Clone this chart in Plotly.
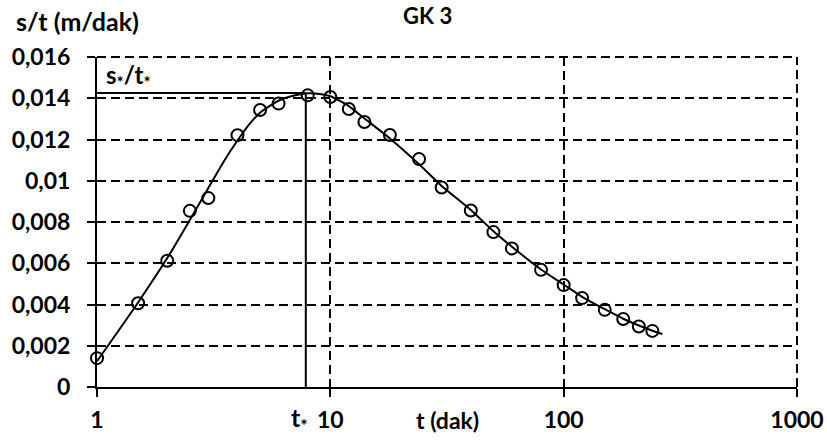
import plotly.graph_objects as go

# Measured points
t_obs = [1, 1.5, 2, 2.5, 3, 4, 5, 6, 8, 10, 12, 14, 18, 24, 30, 40, 50, 60, 80, 100, 120, 150, 180, 210, 240]
st_obs = [0.00140, 0.00406, 0.00612, 0.00854, 0.00916, 0.01221, 0.01343, 0.01374, 0.01414, 0.01406,
          0.01348, 0.01285, 0.01222, 0.01105, 0.00967, 0.00856, 0.00751, 0.00672, 0.00568, 0.00494,
          0.00431, 0.00374, 0.00330, 0.00293, 0.00272]

# Fitted type curve
t_fit = [1, 1.5, 2, 2.5, 3, 3.5, 4, 4.5, 5, 6, 7, 8, 9, 10, 12, 14, 18, 24, 30, 40, 50, 60, 80, 100, 120, 150, 180, 210, 240, 265]
st_fit = [0.00125, 0.00410, 0.00625, 0.00810, 0.00965, 0.01095, 0.01195, 0.01275, 0.01330, 0.01388, 0.01413,
          0.01424, 0.01421, 0.01410, 0.01362, 0.01302, 0.01205, 0.01080, 0.00975, 0.00858, 0.00755, 0.00680,
          0.00570, 0.00497, 0.00437, 0.00377, 0.00331, 0.00298, 0.00273, 0.00257]

# Reference values
t_star = 7.85
st_star = 0.01426

y_ticks = [0, 0.002, 0.004, 0.006, 0.008, 0.010, 0.012, 0.014, 0.016]
y_ticktext = ["0", "0,002", "0,004", "0,006", "0,008", "0,01", "0,012", "0,014", "0,016"]
x_ticks = [1, 10, 100, 1000]
x_ticktext = ["1", "10", "100", "1000"]

FONT = "Lato"
tickfont = dict(family=FONT, size=23, color="black", weight=700)
DASH = "9px,5px"

fig = go.Figure()

# s*/t* horizontal and t* vertical reference lines
fig.add_trace(go.Scatter(x=[1, t_star], y=[st_star, st_star], mode="lines",
                         line=dict(color="black", width=2), showlegend=False, hoverinfo="skip"))
fig.add_trace(go.Scatter(x=[t_star, t_star], y=[0, st_star], mode="lines",
                         line=dict(color="black", width=2), showlegend=False, hoverinfo="skip"))

fig.add_trace(go.Scatter(x=t_fit, y=st_fit, mode="lines",
                         line=dict(color="black", width=2, shape="spline", smoothing=0.6),
                         showlegend=False))
fig.add_trace(go.Scatter(x=t_obs, y=st_obs, mode="markers",
                         marker=dict(symbol="circle-open", size=12, color="black", line=dict(width=2)),
                         showlegend=False, cliponaxis=False))

fig.update_xaxes(type="log", range=[0, 3], tickvals=x_ticks, ticktext=x_ticktext,
                 showgrid=True, gridcolor="black", gridwidth=2, griddash=DASH,
                 showline=True, linecolor="black", linewidth=2,
                 ticks="outside", ticklen=8, tickwidth=2, tickcolor="black",
                 tickfont=tickfont, zeroline=False, ticklabelstandoff=3, automargin=False)
fig.update_yaxes(range=[0, 0.016], tickvals=y_ticks, ticktext=y_ticktext,
                 showgrid=True, gridcolor="black", gridwidth=2, griddash=DASH,
                 showline=True, linecolor="black", linewidth=2,
                 ticks="outside", ticklen=8, tickwidth=2, tickcolor="black",
                 tickfont=tickfont, zeroline=False, ticklabelstandoff=12, automargin=False)

# dashed top and right borders (gridlines at range ends)
fig.add_shape(type="line", xref="paper", yref="paper", x0=0, x1=1, y0=1, y1=1,
              line=dict(color="black", width=2, dash=DASH), layer="below")
fig.add_shape(type="line", xref="paper", yref="paper", x0=1, x1=1, y0=0, y1=1,
              line=dict(color="black", width=2, dash=DASH), layer="below")

W, H = 827, 441
L, R, T, B = 97, 30, 57, 54
pw, ph = W - L - R, H - T - B

def px(x):
    return (x - L) / pw

def py(y):
    return (H - B - y) / ph

ann_font = dict(family=FONT, size=22, color="black", weight=700)
fig.add_annotation(x=px(14), y=py(21), xref="paper", yref="paper", text="s/t (m/dak)",
                   showarrow=False, xanchor="left", yanchor="middle",
                   font=dict(family=FONT, size=25, color="black", weight=700))
fig.add_annotation(x=px(427), y=py(16), xref="paper", yref="paper", text="GK 3",
                   showarrow=False, xanchor="center", yanchor="middle", font=ann_font)
fig.add_annotation(x=px(447), y=py(420), xref="paper", yref="paper", text="t (dak)",
                   showarrow=False, xanchor="center", yanchor="middle", font=tickfont)
fig.add_annotation(x=px(310), y=py(419), xref="paper", yref="paper", text="t<sub>*</sub>",
                   showarrow=False, xanchor="right", yanchor="middle",
                   font=dict(family=FONT, size=25, color="black", weight=700))
fig.add_annotation(x=px(104), y=py(76), xref="paper", yref="paper", text="s<sub>*</sub>/t<sub>*</sub>",
                   showarrow=False, xanchor="left", yanchor="middle",
                   font=dict(family=FONT, size=24, color="black", weight=700))

fig.update_layout(width=W, height=H, margin=dict(l=L, r=R, t=T, b=B, autoexpand=False),
                  plot_bgcolor="white", paper_bgcolor="white", showlegend=False)

fig.write_html("out.html")
